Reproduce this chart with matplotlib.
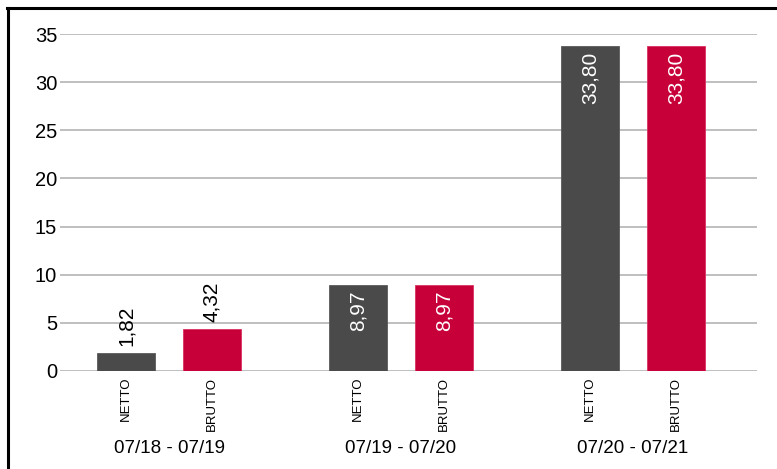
import matplotlib.pyplot as plt
import numpy as np
from matplotlib.lines import Line2D

plt.rcParams['font.family'] = ['Liberation Sans', 'DejaVu Sans']

periods = ['07/18 - 07/19', '07/19 - 07/20', '07/20 - 07/21']
netto = [1.82, 8.97, 33.80]
brutto = [4.32, 8.97, 33.80]
series_names = ['NETTO', 'BRUTTO']

gray = '#4a4a4a'
red = '#c8003a'

fig = plt.figure(figsize=(7.77, 4.69), dpi=100)
ax = fig.add_axes([0.0772, 0.209, 0.8968, 0.7185])

x = np.arange(len(periods))
off = 0.185
w = 0.25

b1 = ax.bar(x - off, netto, w, color=gray, edgecolor='#5a5a5a', linewidth=0.6, zorder=3)
b2 = ax.bar(x + off, brutto, w, color=red, edgecolor='#d8335e', linewidth=0.6, zorder=3)

def label(bars, vals):
    for b, v in zip(bars, vals):
        txt = f'{v:.2f}'.replace('.', ',')
        cx = b.get_x() + b.get_width() / 2
        if v > 6:
            ax.annotate(txt, (cx, v), xytext=(0, -6), textcoords='offset pixels',
                        rotation=90, ha='center', va='top', color='white', fontsize=15, zorder=4)
        else:
            ax.annotate(txt, (cx, v), xytext=(0, 7), textcoords='offset pixels',
                        rotation=90, ha='center', va='bottom', color='black', fontsize=15, zorder=4)

label(b1, netto)
label(b2, brutto)

ax.set_xlim(-0.47, 2.534)
ax.set_ylim(0, 35)
ax.set_yticks(np.arange(0, 36, 5))
ax.yaxis.grid(True, color='#adadad', linewidth=1.1, zorder=0)
ax.tick_params(axis='y', length=0, pad=2, labelsize=14.5)

ticks = np.concatenate([x - off, x + off])
labels = [series_names[0]] * 3 + [series_names[1]] * 3
ax.set_xticks(ticks)
ax.set_xticklabels(labels, rotation=90, fontsize=9.5, va='top')
ax.tick_params(axis='x', length=0, pad=4)

for xi, p in zip(x, periods):
    ax.text(xi, -0.2315, p, transform=ax.get_xaxis_transform(), ha='center', va='center', fontsize=13.5)

for s in ax.spines.values():
    s.set_visible(False)

# partial frame: left and top edges
fig.add_artist(Line2D([0.0097, 0.0097], [0, 0.983], transform=fig.transFigure, color='black', linewidth=2.2))
fig.add_artist(Line2D([0.0085, 1.0], [0.982, 0.982], transform=fig.transFigure, color='black', linewidth=2.2))

fig.savefig('out.png', dpi=100)
